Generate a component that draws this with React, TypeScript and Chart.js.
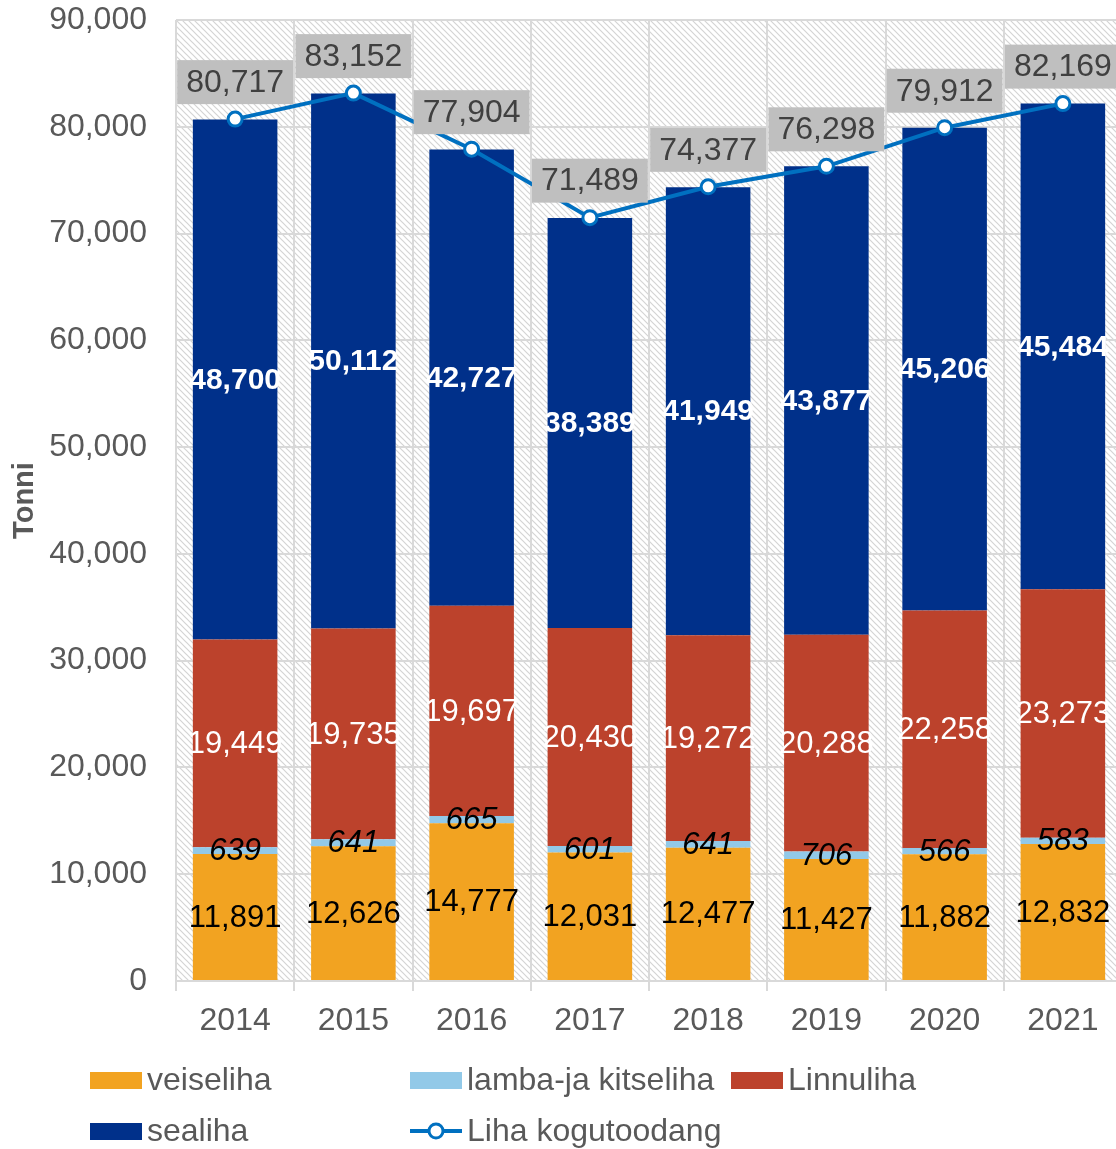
import React, { useEffect, useRef } from "react";
import { Chart, registerables } from "chart.js";

Chart.register(...registerables);

const years = ["2014", "2015", "2016", "2017", "2018", "2019", "2020", "2021"];
const veiseliha = [11891, 12626, 14777, 12031, 12477, 11427, 11882, 12832];
const lamba = [639, 641, 665, 601, 641, 706, 566, 583];
const linnuliha = [19449, 19735, 19697, 20430, 19272, 20288, 22258, 23273];
const sealiha = [48700, 50112, 42727, 38389, 41949, 43877, 45206, 45484];
const kogutoodang = [80717, 83152, 77904, 71489, 74377, 76298, 79912, 82169];
const yTicks = [0, 10000, 20000, 30000, 40000, 50000, 60000, 70000, 80000, 90000];

const FONT = "'Liberation Sans', Arial, sans-serif";
const fmt = (v: number) => v.toLocaleString("en-US");

function makePattern(): CanvasPattern | string {
  const c = document.createElement("canvas");
  const s = 6;
  c.width = s;
  c.height = s;
  const g = c.getContext("2d");
  if (!g) return "#fff";
  g.fillStyle = "#ffffff";
  g.fillRect(0, 0, s, s);
  g.strokeStyle = "#d4d4d4";
  g.lineWidth = 1.2;
  g.beginPath();
  g.moveTo(-1, -1);
  g.lineTo(s + 1, s + 1);
  g.moveTo(-1, s - 1);
  g.lineTo(1, s + 1);
  g.moveTo(s - 1, -1);
  g.lineTo(s + 1, 1);
  g.stroke();
  const p = g.createPattern(c, "repeat");
  return p || "#fff";
}

const bgPlugin = {
  id: "hatchBg",
  beforeDraw(chart: any) {
    const { ctx, chartArea } = chart;
    ctx.save();
    ctx.fillStyle = makePattern();
    ctx.fillRect(chartArea.left, chartArea.top, chartArea.right - chartArea.left, chartArea.bottom - chartArea.top);
    ctx.restore();
  },
};

const labelPlugin = {
  id: "valueLabels",
  afterDatasetsDraw(chart: any) {
    const { ctx } = chart;
    ctx.save();
    chart.data.datasets.forEach((ds: any, di: number) => {
      const meta = chart.getDatasetMeta(di);
      const lab = ds.labelStyle;
      if (!lab) return;
      meta.data.forEach((el: any, i: number) => {
        const v = ds.data[i];
        const text = fmt(v);
        ctx.font = lab.font;
        ctx.textAlign = "center";
        ctx.textBaseline = "middle";
        if (ds.type === "line") {
          const w = ctx.measureText(text).width + 18;
          const h = 44;
          const bx = el.x - w / 2;
          const by = el.y - 15 - h;
          ctx.fillStyle = "#bfbfbf";
          ctx.fillRect(bx, by, w, h);
          ctx.fillStyle = lab.color;
          ctx.fillText(text, el.x, by + h / 2 + 1);
        } else {
          const cy = (el.y + el.base) / 2;
          ctx.fillStyle = lab.color;
          ctx.fillText(text, el.x, cy + 1);
        }
      });
    });
    ctx.restore();
  },
};

const legendPlugin = {
  id: "gridLegend",
  afterDraw(chart: any) {
    const { ctx } = chart;
    const slots = [
      { x: 90, y: 1080 },
      { x: 410, y: 1080 },
      { x: 731, y: 1080 },
      { x: 90, y: 1131 },
      { x: 410, y: 1131 },
    ];
    ctx.save();
    chart.data.datasets.forEach((ds: any, i: number) => {
      const s = slots[i];
      if (!s) return;
      if (ds.type === "line") {
        ctx.strokeStyle = ds.borderColor;
        ctx.lineWidth = 4;
        ctx.beginPath();
        ctx.moveTo(s.x, s.y);
        ctx.lineTo(s.x + 52, s.y);
        ctx.stroke();
        ctx.beginPath();
        ctx.arc(s.x + 26, s.y, 7, 0, Math.PI * 2);
        ctx.fillStyle = "#fff";
        ctx.fill();
        ctx.lineWidth = 3;
        ctx.stroke();
      } else {
        ctx.fillStyle = ds.backgroundColor;
        ctx.fillRect(s.x, s.y - 8, 52, 17);
      }
      ctx.fillStyle = "#595959";
      ctx.font = `32px ${FONT}`;
      ctx.textAlign = "left";
      ctx.textBaseline = "middle";
      ctx.fillText(ds.label, s.x + 57, s.y + 1);
    });
    ctx.restore();
  },
};

export default function App() {
  const ref = useRef<HTMLCanvasElement | null>(null);
  useEffect(() => {
    if (!ref.current) return;
    const barCommon = {
      type: "bar" as const,
      stack: "bars",
      barPercentage: 0.715,
      categoryPercentage: 1,
      order: 2,
    };
    const chart = new Chart(ref.current, {
      type: "bar",
      data: {
        labels: years,
        datasets: [
          {
            ...barCommon,
            label: "veiseliha",
            data: veiseliha,
            backgroundColor: "#F2A321",
            labelStyle: { font: `31px ${FONT}`, color: "#000000" },
          } as any,
          {
            ...barCommon,
            label: "lamba-ja kitseliha",
            data: lamba,
            backgroundColor: "#92C9E8",
            labelStyle: { font: `italic 31px ${FONT}`, color: "#000000" },
          } as any,
          {
            ...barCommon,
            label: "Linnuliha",
            data: linnuliha,
            backgroundColor: "#BC422C",
            labelStyle: { font: `31px ${FONT}`, color: "#ffffff" },
          } as any,
          {
            ...barCommon,
            label: "sealiha",
            data: sealiha,
            backgroundColor: "#00308A",
            labelStyle: { font: `bold 30px ${FONT}`, color: "#ffffff" },
          } as any,
          {
            type: "line",
            label: "Liha kogutoodang",
            data: kogutoodang,
            stack: "line",
            order: 0,
            borderColor: "#0070C0",
            borderWidth: 4,
            pointRadius: 7,
            pointBorderWidth: 3,
            pointBackgroundColor: "#ffffff",
            pointBorderColor: "#0070C0",
            tension: 0,
            clip: false,
            labelStyle: { font: `32px ${FONT}`, color: "#404040" },
          } as any,
        ],
      },
      options: {
        responsive: false,
        animation: false,
        layout: { autoPadding: false, padding: { left: 0, right: 0, top: 20, bottom: 108 } },
        plugins: {
          legend: { display: false },
          tooltip: { enabled: false },
        },
        scales: {
          x: {
            stacked: true,
            grid: {
              display: true,
              offset: true,
              color: "#d9d9d9",
              lineWidth: 2,
              tickLength: 10,
            },
            border: { display: true, color: "#d9d9d9", width: 2 },
            ticks: {
              color: "#595959",
              font: { size: 32, family: FONT },
              padding: 11,
              maxRotation: 0,
            },
            afterFit(scale: any) {
              scale.height = 60;
              scale.paddingLeft = 0;
              scale.paddingRight = 0;
            },
          },
          y: {
            stacked: true,
            min: 0,
            max: 90000,
            afterBuildTicks(scale: any) {
              scale.ticks = yTicks.map((v) => ({ value: v }));
            },
            grid: { color: "#d9d9d9", lineWidth: 2, drawTicks: false },
            border: { display: false },
            ticks: {
              color: "#595959",
              font: { size: 32, family: FONT },
              padding: 29,
              callback: (v: any) => fmt(Number(v)),
            },
            title: {
              display: true,
              text: "Tonni",
              color: "#595959",
              font: { size: 29, weight: "bold", family: FONT },
              padding: { top: 8, bottom: 0 },
            },
            afterFit(scale: any) {
              scale.width = 176;
              scale.paddingTop = 0;
              scale.paddingBottom = 0;
            },
          },
        },
      },
      plugins: [bgPlugin, labelPlugin, legendPlugin],
    } as any);
    return () => chart.destroy();
  }, []);
  return (
    <div
      style={{
        position: "absolute",
        left: 0,
        top: 0,
        width: 1116,
        height: 1149,
        overflow: "hidden",
        background: "#fff",
      }}
    >
      <canvas ref={ref} width={1122} height={1149} style={{ display: "block" }} />
    </div>
  );
}
